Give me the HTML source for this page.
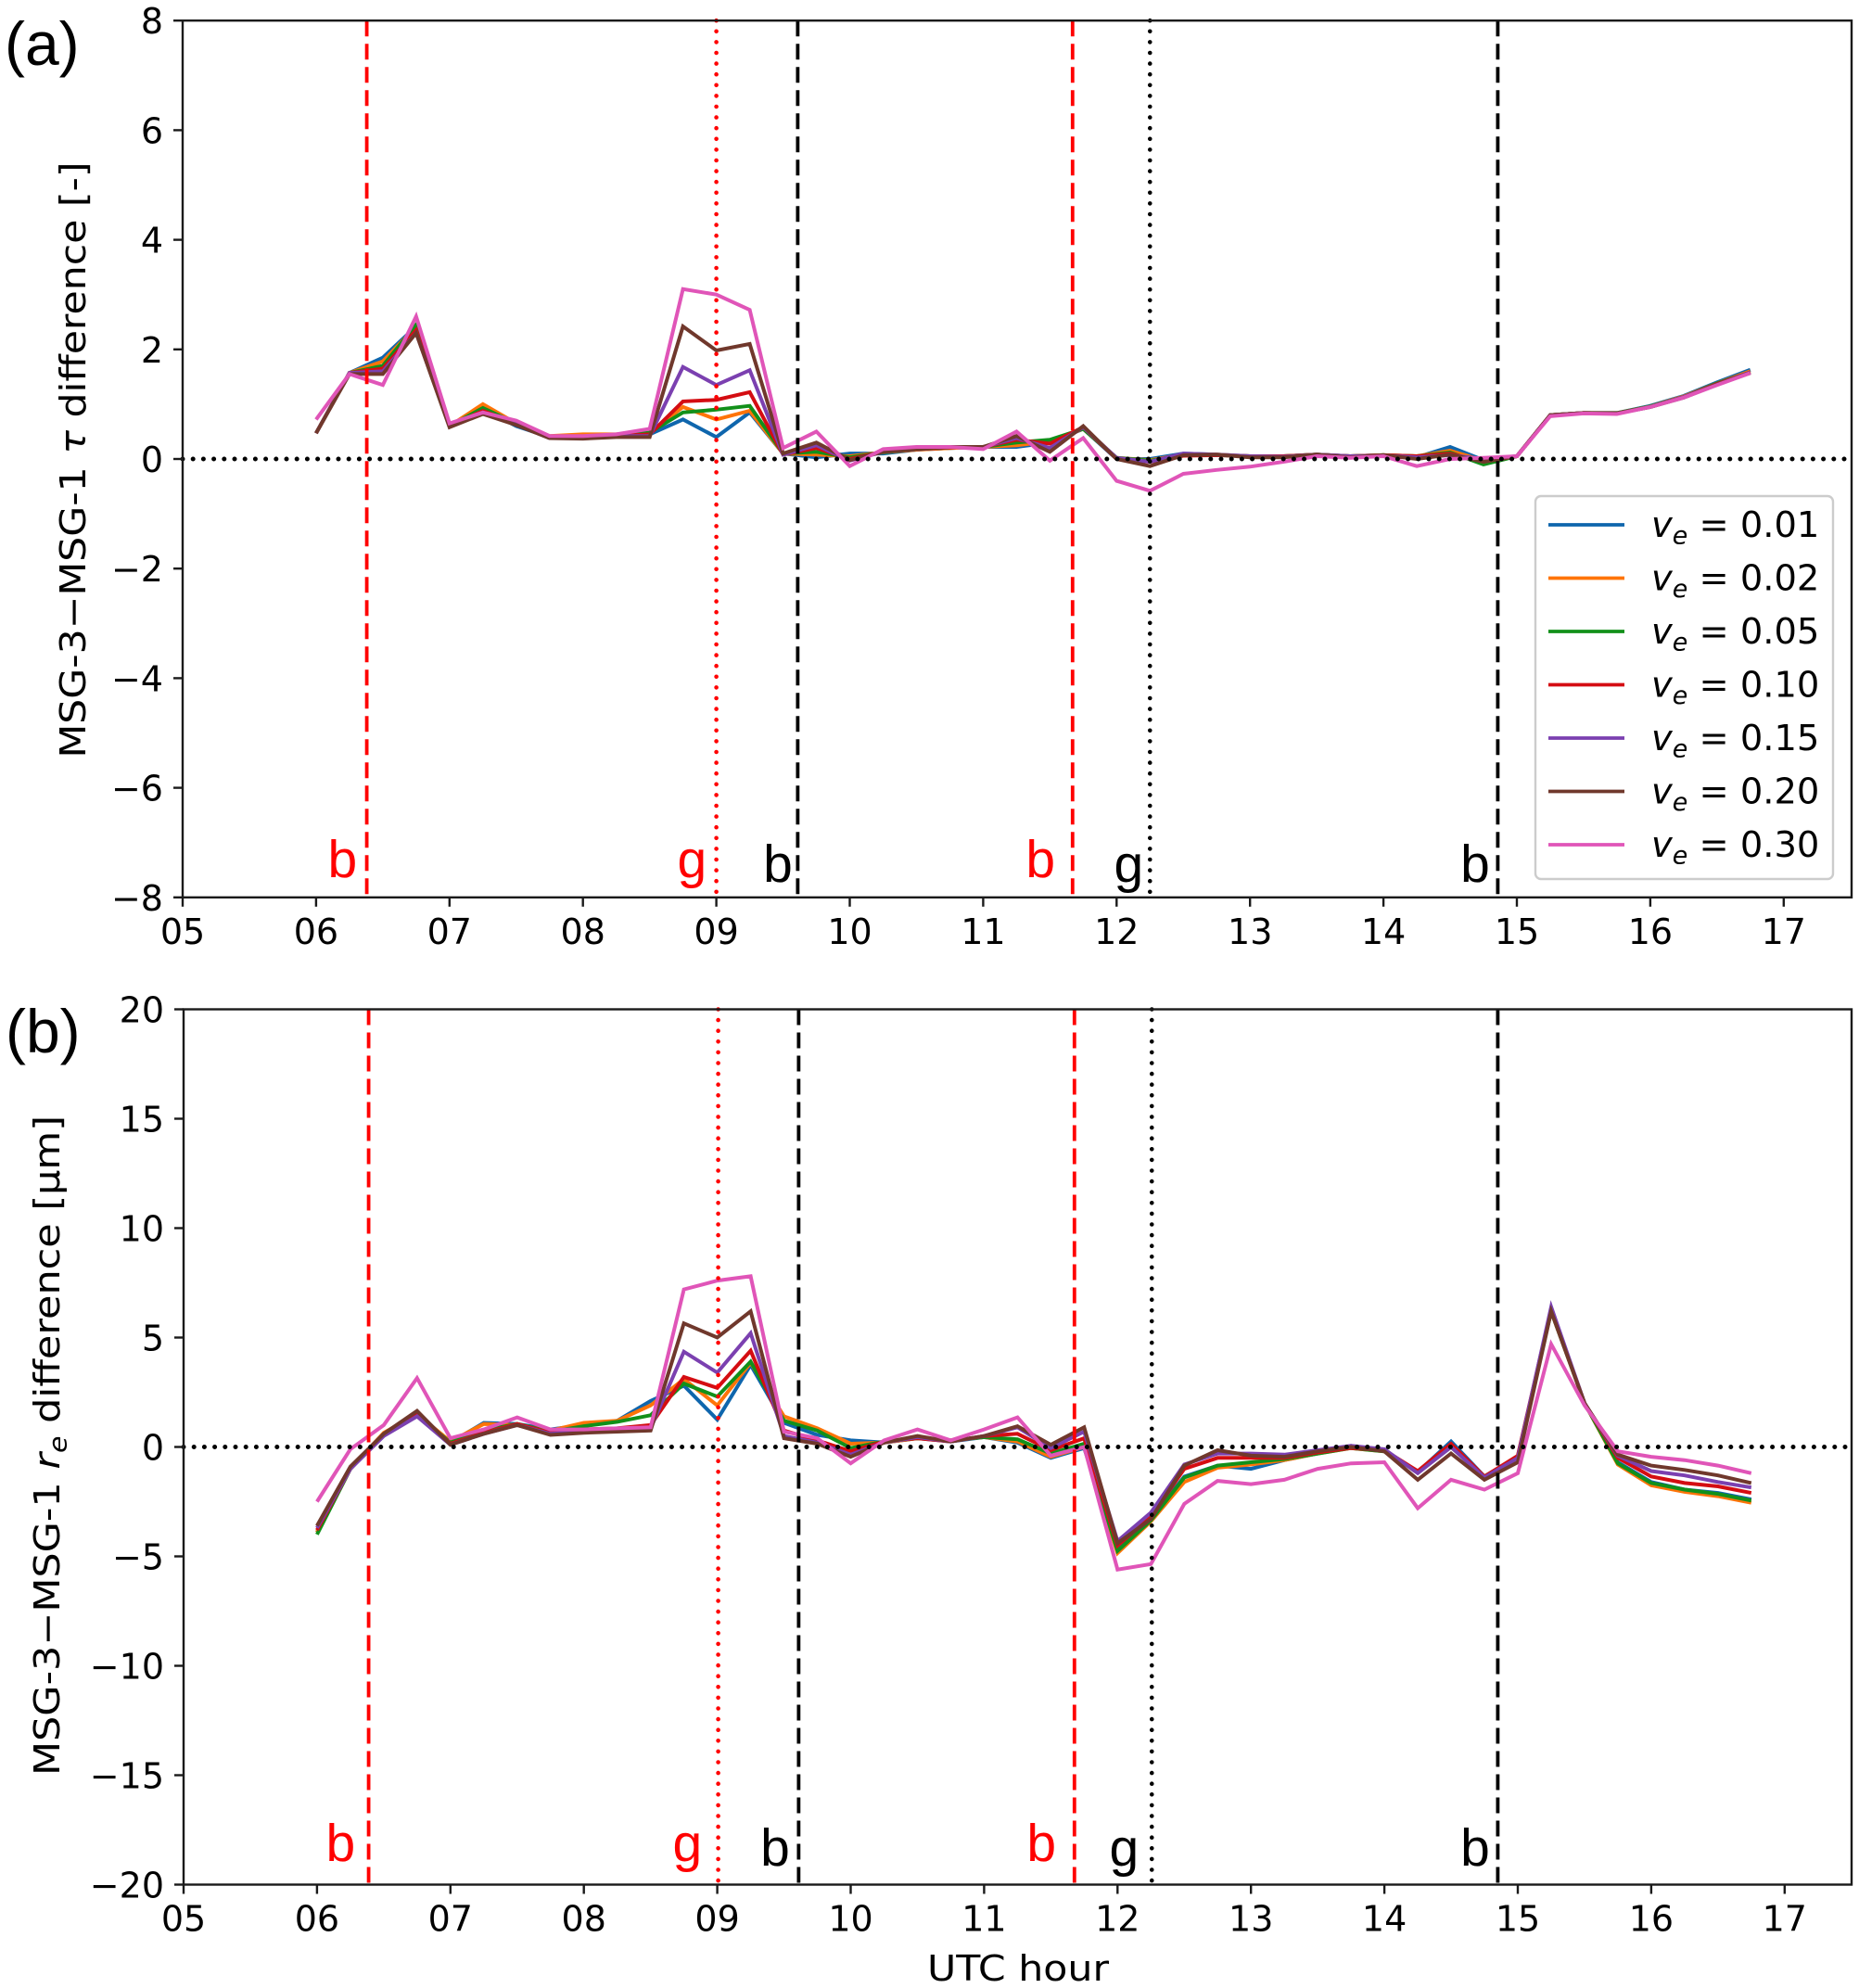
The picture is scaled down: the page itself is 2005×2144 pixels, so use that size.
<!DOCTYPE html>
<html>
<head>
<meta charset="utf-8">
<title>MSG-3 minus MSG-1 differences</title>
<style>
html,body{margin:0;padding:0;background:#fff;width:2005px;height:2144px;overflow:hidden}
svg{display:block}
text{font-family:"DejaVu Sans","Liberation Sans",sans-serif;fill:#000}
</style>
</head>
<body>
<svg id="figure" xmlns="http://www.w3.org/2000/svg" width="2005" height="2144" viewBox="0 0 2005 2144"></svg>
<script>
const hours = [6,6.25,6.5,6.75,7,7.25,7.5,7.75,8,8.25,8.5,8.75,9,9.25,9.5,9.75,10,10.25,10.5,10.75,11,11.25,11.5,11.75,12,12.25,12.5,12.75,13,13.25,13.5,13.75,14,14.25,14.5,14.75,15,15.25,15.5,15.75,16,16.25,16.5,16.75];
const seriesLabels = ["0.01","0.02","0.05","0.10","0.15","0.20","0.30"];
const seriesColors = ["#0f66ad","#ff7408","#12901a","#d40d12","#7b40b0","#70382c","#e055b8"];
const xTickValues = [5,6,7,8,9,10,11,12,13,14,15,16,17];
const xTickLabels = ["05","06","07","08","09","10","11","12","13","14","15","16","17"];
const tauTicks = [8,6,4,2,0,-2,-4,-6,-8];
const reTicks = [20,15,10,5,0,-5,-10,-15,-20];

const tauV01 = [0.47,1.57,1.85,2.42,0.6,0.92,0.6,0.4,0.4,0.42,0.45,0.72,0.4,0.85,0.1,0.03,0.1,0.1,0.17,0.2,0.22,0.22,0.3,0.55,0.0,0.0,0.1,0.08,0.05,0.05,0.08,0.05,0.07,0.03,0.22,-0.02,0.05,0.8,0.84,0.84,0.97,1.15,1.4,1.63];
const tauV02 = [0.47,1.57,1.78,2.42,0.6,1.0,0.65,0.42,0.45,0.45,0.48,0.95,0.72,0.88,0.1,0.08,0.05,0.12,0.17,0.2,0.22,0.25,0.32,0.55,0.02,-0.02,0.08,0.08,0.05,0.05,0.08,0.05,0.07,0.05,0.15,-0.03,0.05,0.8,0.84,0.84,0.96,1.14,1.38,1.6];
const tauV05 = [0.47,1.57,1.7,2.45,0.6,0.93,0.65,0.4,0.4,0.43,0.48,0.85,0.9,0.97,0.1,0.13,0.03,0.12,0.18,0.21,0.22,0.3,0.35,0.55,0.02,-0.03,0.07,0.07,0.05,0.05,0.08,0.05,0.07,0.05,0.12,-0.1,0.05,0.8,0.84,0.84,0.96,1.13,1.38,1.58];
const tauV10 = [0.47,1.57,1.65,2.35,0.6,0.88,0.65,0.4,0.38,0.42,0.45,1.05,1.08,1.22,0.08,0.2,0.0,0.13,0.18,0.21,0.22,0.35,0.28,0.58,0.0,-0.05,0.06,0.07,0.05,0.05,0.08,0.05,0.07,0.05,0.1,-0.05,0.05,0.8,0.84,0.83,0.95,1.13,1.37,1.58];
const tauV15 = [0.47,1.57,1.6,2.3,0.6,0.85,0.63,0.38,0.38,0.42,0.42,1.68,1.35,1.62,0.08,0.25,-0.03,0.13,0.18,0.22,0.22,0.38,0.2,0.58,0.02,-0.05,0.1,0.08,0.05,0.04,0.08,0.05,0.06,0.03,0.07,0.0,0.05,0.8,0.84,0.83,0.95,1.13,1.36,1.58];
const tauV20 = [0.47,1.55,1.55,2.3,0.58,0.82,0.62,0.38,0.37,0.4,0.4,2.42,1.98,2.1,0.1,0.3,-0.02,0.13,0.18,0.22,0.22,0.42,0.13,0.6,0.0,-0.13,0.07,0.08,0.03,0.03,0.08,0.03,0.07,0.0,0.08,-0.05,0.05,0.8,0.84,0.83,0.95,1.12,1.36,1.57];
const tauV30 = [0.72,1.55,1.35,2.6,0.65,0.85,0.7,0.42,0.42,0.45,0.55,3.1,3.0,2.72,0.2,0.5,-0.13,0.18,0.22,0.22,0.18,0.5,-0.03,0.38,-0.4,-0.58,-0.27,-0.2,-0.14,-0.05,0.05,0.02,0.05,-0.13,0.0,0.02,0.05,0.78,0.83,0.82,0.95,1.12,1.35,1.57];
const tauSeries = [tauV01,tauV02,tauV05,tauV10,tauV15,tauV20,tauV30];

const reV01 = [-3.9,-1,0.55,1.45,0.2,1.1,1.05,0.8,1.0,1.2,2.1,2.8,1.25,3.75,1.1,0.55,0.3,0.2,0.4,0.25,0.45,0.2,-0.5,-0.05,-4.7,-3.3,-1.35,-0.85,-1.0,-0.6,-0.3,0.05,-0.2,-1.15,0.25,-1.35,-0.45,6.25,2.0,-0.7,-1.6,-1.95,-2.1,-2.4];
const reV02 = [-3.9,-1,0.65,1.5,0.25,1.05,1.0,0.75,1.1,1.2,1.9,3.1,1.9,3.85,1.4,0.85,0.15,0.2,0.4,0.3,0.45,0.25,-0.45,0.0,-4.85,-3.4,-1.6,-0.95,-0.8,-0.6,-0.3,-0.05,-0.2,-1.15,0,-1.35,-0.45,6.2,2.0,-0.8,-1.75,-2.05,-2.25,-2.55];
const reV05 = [-4,-1,0.6,1.45,0.2,0.75,1.05,0.7,0.95,1.15,1.45,2.9,2.3,3.9,1.2,0.75,-0.05,0.25,0.4,0.3,0.45,0.35,-0.3,0.15,-4.75,-3.35,-1.4,-0.85,-0.7,-0.55,-0.3,-0.05,-0.2,-1.15,0.0,-1.35,-0.45,6.2,2.0,-0.75,-1.65,-1.95,-2.15,-2.45];
const reV10 = [-3.8,-1,0.55,1.5,0.15,0.65,1.05,0.65,0.8,0.85,1.0,3.2,2.7,4.4,0.75,0.3,-0.2,0.25,0.4,0.25,0.5,0.6,-0.15,0.4,-4.5,-3.2,-1.0,-0.5,-0.5,-0.5,-0.25,-0.05,-0.15,-1.1,0.15,-1.35,-0.4,6.3,2.0,-0.5,-1.35,-1.65,-1.8,-2.1];
const reV15 = [-3.7,-1,0.5,1.4,0.1,0.6,1.0,0.6,0.7,0.75,0.85,4.35,3.4,5.2,0.5,0.2,-0.35,0.2,0.45,0.25,0.5,0.9,-0.05,0.7,-4.3,-3.0,-0.8,-0.3,-0.3,-0.35,-0.15,0.05,-0.1,-1.2,0,-1.4,-0.5,6.4,2.0,-0.4,-1.1,-1.3,-1.6,-1.85];
const reV20 = [-3.6,-0.9,0.6,1.65,0.1,0.6,1.0,0.55,0.65,0.7,0.75,5.65,5.0,6.2,0.4,0.15,-0.45,0.2,0.5,0.25,0.5,0.95,0.1,0.9,-4.4,-3.3,-0.85,-0.15,-0.4,-0.45,-0.2,0.0,-0.2,-1.5,-0.3,-1.5,-0.7,6.2,2.0,-0.35,-0.85,-1.05,-1.3,-1.65];
const reV30 = [-2.5,-0.1,1.0,3.15,0.4,0.8,1.35,0.8,0.8,0.85,0.9,7.2,7.6,7.8,0.7,0.4,-0.75,0.3,0.8,0.3,0.8,1.35,-0.4,0.0,-5.6,-5.35,-2.6,-1.55,-1.7,-1.5,-1.0,-0.75,-0.7,-2.8,-1.5,-1.95,-1.2,4.7,1.9,-0.2,-0.45,-0.6,-0.85,-1.2];
const reSeries = [reV01,reV02,reV05,reV10,reV15,reV20,reV30];

const eventHours = [6.38,9.0,9.61,11.67,12.25,14.85];
const eventLetters = ["b","g","b","b","g","b"];
const eventLabelHours = [6.17,8.79,9.44,11.43,12.07,14.68];

const eventColors = ["#ff0000","#ff0000","#000000","#ff0000","#000000","#000000"];
const eventStyles = ["dash","dot","dash","dash","dot","dash"];

const NS = "http://www.w3.org/2000/svg";
const svg = document.getElementById("figure");

function make(tag, attrs, parent) {
  const el = document.createElementNS(NS, tag);
  for (const k in attrs) el.setAttribute(k, attrs[k]);
  parent.appendChild(el);
  return el;
}

function subscripted(el, before, letter, after, size) {
  make("tspan", {}, el).textContent = before;
  const a = make("tspan", {"font-style":"italic"}, el);
  a.textContent = letter;
  const b = make("tspan", {"font-style":"italic","font-size":size*0.7,dy:size*0.2}, el);
  b.textContent = "e";
  const c = make("tspan", {dy:-size*0.2}, el);
  c.textContent = after;
}

function drawPanel(cfg) {
  const g = make("g", {}, svg);
  
  
  const xScale = h => cfg.left + (h - 5) * cfg.pxPerHour;
  const yScale = v => cfg.zero - v * cfg.pxPerUnit;
  const top = yScale(cfg.yMax), bottom = yScale(-cfg.yMax);

  cfg.series.forEach((values, i) => {
    const pts = hours.map((h, j) => xScale(h).toFixed(1) + "," + yScale(values[j]).toFixed(1)).join(" ");
    const line = make("polyline", {points:pts, fill:"none", stroke:seriesColors[i], "stroke-width":4, "stroke-linejoin":"miter"}, g);
    
    
  });

  eventHours.forEach((h, i) => {
    const x = xScale(h) + cfg.eventShift[i];
    const dot = eventStyles[i] === "dot";
    const vl = make("line", {x1:x, x2:x, y1:top, y2:bottom, stroke:eventColors[i], "stroke-width":dot ? 4.6 : 3.8,
      "stroke-dasharray":dot ? "0 11.6" : "17 8", "stroke-linecap":dot ? "round" : "butt"}, g);
    
    
    const lab = make("text", {x:xScale(eventLabelHours[i]) + cfg.labelShift[i], y:cfg.labelY + cfg.labelDy[i], "text-anchor":"middle",
      "font-size":57, style:'font-family:"Liberation Sans",sans-serif;fill:' + eventColors[i]}, g);
    lab.textContent = eventLetters[i];
    
    
  });

  const zeroLine = make("line", {x1:cfg.left, x2:cfg.right, y1:yScale(0), y2:yScale(0), stroke:"#000", "stroke-width":5,
    "stroke-dasharray":"0 11.2", "stroke-linecap":"round"}, g);
  
  

  const frame = make("rect", {x:cfg.left, y:top, width:cfg.right - cfg.left, height:bottom - top, fill:"none", stroke:"#1a1a1a", "stroke-width":2.4}, g);
  
  

  cfg.yTicks.forEach(v => {
    const y = yScale(v);
    const t = make("line", {x1:cfg.left - 10, x2:cfg.left, y1:y, y2:y, stroke:"#1a1a1a", "stroke-width":2.4}, g);
    
    
    const lab = make("text", {x:cfg.left - 21, y:y + 14, "text-anchor":"end", "font-size":38}, g);
    lab.textContent = (v < 0 ? "\u2212" + (-v) : String(v));
    
    
  });

  xTickValues.forEach((h, i) => {
    const x = xScale(h);
    const t = make("line", {x1:x, x2:x, y1:bottom, y2:bottom + 10, stroke:"#1a1a1a", "stroke-width":2.4}, g);
    
    
    const lab = make("text", {x:x, y:bottom + 50, "text-anchor":"middle", "font-size":38}, g);
    lab.textContent = xTickLabels[i];
    
    
  });
  return {top, bottom};
}

drawPanel({name:"panel-a-tau-difference", left:197, right:1997, pxPerHour:143.9, zero:495, pxPerUnit:59.1, yMax:8,
  yTicks:tauTicks, series:tauSeries, labelY:946,
  eventShift:[0,0,0,0,0,1], labelShift:[4,4,3,0,3,1], labelDy:[0,0,5,0,5,5]});
drawPanel({name:"panel-b-re-difference", left:198, right:1997, pxPerHour:143.9, zero:1560.5, pxPerUnit:23.6, yMax:20,
  yTicks:reTicks, series:reSeries, labelY:2007,
  eventShift:[1,1,0,1,1,0], labelShift:[1,-2,-1,0,-3,0], labelDy:[0,0,5,0,5,5]});

const panelATag = make("text", {x:5, y:70, "font-size":66, style:'font-family:"Liberation Sans",sans-serif'}, svg);
panelATag.textContent = "(a)";



const panelBTag = make("text", {x:6, y:1135, "font-size":66, style:'font-family:"Liberation Sans",sans-serif'}, svg);
panelBTag.textContent = "(b)";



const yTitleA = make("text", {transform:"translate(92,496) rotate(-90)", "text-anchor":"middle", "font-size":38, textLength:643, lengthAdjust:"spacingAndGlyphs"}, svg);
make("tspan", {}, yTitleA).textContent = "MSG-3\u2212MSG-1 ";
make("tspan", {"font-style":"italic"}, yTitleA).textContent = "\u03C4";
make("tspan", {}, yTitleA).textContent = " difference [-]";



const yTitleB = make("text", {transform:"translate(64,1559) rotate(-90)", "text-anchor":"middle", "font-size":38, textLength:712, lengthAdjust:"spacingAndGlyphs"}, svg);
subscripted(yTitleB, "MSG-3\u2212MSG-1 ", "r", " difference [\u00B5m]", 38);



const xTitle = make("text", {x:1098, y:2136, "text-anchor":"middle", "font-size":38, textLength:196, lengthAdjust:"spacingAndGlyphs"}, svg);
xTitle.textContent = "UTC hour";



const legend = make("g", {}, svg);


const legendBox = make("rect", {x:1656, y:535, width:321, height:413, rx:6, ry:6, fill:"#fff", "fill-opacity":0.85, stroke:"#cccccc", "stroke-width":2.4}, legend);


seriesLabels.forEach((label, i) => {
  const y = 566 + i * 57.5;
  const swatch = make("line", {x1:1670, x2:1752, y1:y, y2:y, stroke:seriesColors[i], "stroke-width":3.8}, legend);
  
  
  const txt = make("text", {x:1781, y:y + 13, "font-size":38.4}, legend);
  txt.setAttribute("xml:space", "preserve");
  subscripted(txt, "", "v", " = " + label, 38.4);
  
  
});
</script>
</body>
</html>
